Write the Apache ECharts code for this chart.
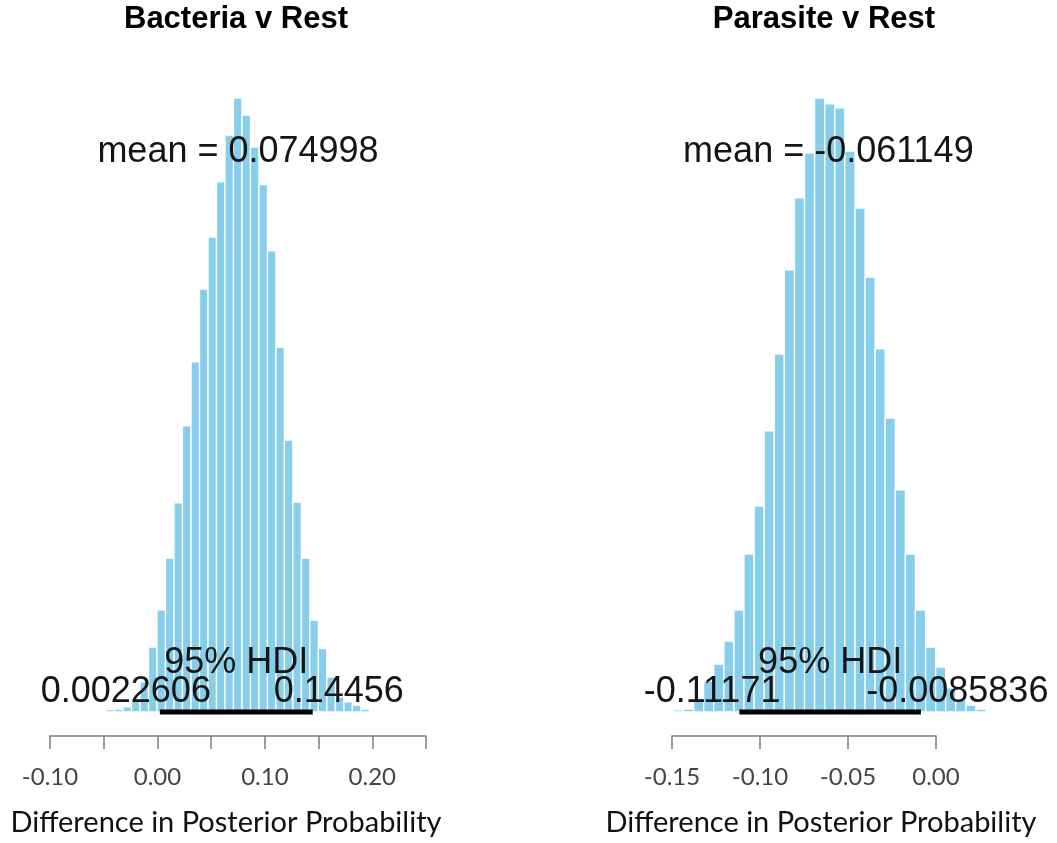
<!DOCTYPE html>
<html><head><meta charset="utf-8">
<script src="https://cdn.jsdelivr.net/npm/echarts@6/dist/echarts.min.js"></script>
<style>html,body{margin:0;padding:0;background:#fff}#c{width:1057px;height:843px}</style>
</head><body><div id="c"></div><script>
// ---- Panel 1: Bacteria v Rest ----
const bactTitle = 'Bacteria v Rest';
const bactEdges = [-0.0478,-0.0399,-0.0320,-0.0241,-0.0162,-0.0083,-0.0004,0.0075,0.0154,0.0233,0.0313,0.0392,0.0471,0.0550,0.0629,0.0708,0.0787,0.0866,0.0945,0.1024,0.1103,0.1182,0.1261,0.1340,0.1419,0.1498,0.1577,0.1657,0.1736,0.1815,0.1894,0.1973];
const bactDensity = [0.04,0.05,0.09,0.21,0.53,1.14,1.79,2.70,3.67,5.02,6.14,7.42,8.33,9.30,10.12,10.77,10.47,9.91,9.25,8.09,6.40,4.77,3.68,2.70,1.61,1.11,0.61,0.26,0.18,0.12,0.05];
const bactMean = 0.074998;
const bactHDI = [0.0022606, 0.14456];
const bactAxis = {min: -0.10, max: 0.25, step: 0.05};
const bactTickLabels = ['-0.10','0.00','0.10','0.20'];

// ---- Panel 2: Parasite v Rest ----
const parTitle = 'Parasite v Rest';
const parEdges = [-0.1549,-0.1492,-0.1435,-0.1377,-0.1320,-0.1263,-0.1205,-0.1148,-0.1091,-0.1033,-0.0976,-0.0919,-0.0862,-0.0804,-0.0747,-0.0690,-0.0632,-0.0575,-0.0518,-0.0460,-0.0403,-0.0346,-0.0289,-0.0231,-0.0174,-0.0117,-0.0059,-0.0002,0.0055,0.0112,0.0170,0.0227,0.0284];
const parDensity = [0.02,0.05,0.07,0.33,0.73,1.13,1.67,2.40,3.72,4.85,6.62,8.43,10.41,12.11,13.17,14.46,14.32,14.23,13.21,11.87,10.24,8.55,6.92,5.23,3.72,2.40,1.53,1.06,0.57,0.28,0.16,0.07];
const parMean = -0.061149;
const parHDI = [-0.11171, -0.0085836];
const parAxis = {min: -0.15, max: 0.00, step: 0.05};
const parTickLabels = ['-0.15','-0.10','-0.05','0.00'];

const xTitle = 'Difference in Posterior Probability';

const ANNOT_FONT = '36px "Liberation Sans", Arial, sans-serif';
const TICK_FONT_FAMILY = 'Lato';
const BAR_COLOR = '#87CEEB';

const mctx = document.createElement('canvas').getContext('2d');
function textWidth(t, font){ mctx.font = font; return mctx.measureText(t).width; }

function fmt(v){ let s = v.toFixed(2); if (s === '-0.00') s = '0.00'; return s; }

function makeXAxis(gi, ax, labels){
  return {
    gridIndex: gi, type: 'value', min: ax.min, max: ax.max, interval: ax.step,
    offset: 24,
    axisLine: {show: true, onZero: false, lineStyle: {color: '#7d7d7d', width: 1.5}},
    axisTick: {show: true, length: 13, lineStyle: {color: '#7d7d7d', width: 1.5}},
    splitLine: {show: false},
    axisLabel: {
      margin: 29, color: '#444', fontSize: 24, fontFamily: TICK_FONT_FAMILY,
      formatter: v => { const s = fmt(v); return labels.indexOf(s) >= 0 ? s : ''; }
    }
  };
}

function barSeries(i, edges, dens){
  return {
    type: 'custom', xAxisIndex: i, yAxisIndex: i, clip: false, silent: true, z: 2,
    data: dens.map((d, k) => [edges[k], edges[k + 1], d]),
    encode: {x: [0, 1], y: 2},
    renderItem: (params, api) => {
      const p0 = api.coord([api.value(0), 0]);
      const p1 = api.coord([api.value(1), api.value(2)]);
      return {type: 'rect',
        shape: {x: p0[0], y: p1[1], width: p1[0] - p0[0], height: p0[1] - p1[1]},
        style: {fill: BAR_COLOR, stroke: '#ffffff', lineWidth: 1.3}};
    }
  };
}

function annotSeries(i, mean, hdi, maxD){
  return {
    type: 'custom', xAxisIndex: i, yAxisIndex: i, clip: false, silent: true, z: 5,
    data: [[mean, hdi[0], hdi[1]]],
    encode: {x: [0, 1, 2]},
    renderItem: (params, api) => {
      const m = api.coord([api.value(0), 0.912 * maxD]);
      const a = api.coord([api.value(1), 0]);
      const b = api.coord([api.value(2), 0]);
      const s0 = String(api.value(1)), s1 = String(api.value(2));
      const w0 = textWidth(s0, ANNOT_FONT), w1 = textWidth(s1, ANNOT_FONT);
      const txt = (t, x, y, align) => ({type: 'text', style: {text: t, x: x, y: y, font: ANNOT_FONT, fill: '#151515', align: align, verticalAlign: 'middle'}});
      return {type: 'group', children: [
        {type: 'line', shape: {x1: a[0], y1: a[1], x2: b[0], y2: b[1]}, style: {stroke: '#000', lineWidth: 5}},
        txt('mean = ' + String(api.value(0)), m[0], m[1], 'center'),
        txt('95% HDI', (a[0] + b[0]) / 2, a[1] - 49, 'center'),
        txt(s0, a[0] - 0.7 * w0, a[1] - 20, 'left'),
        txt(s1, b[0] - 0.3 * w1, b[1] - 20, 'left')
      ]};
    }
  };
}

const bactMax = Math.max.apply(null, bactDensity);
const parMax = Math.max.apply(null, parDensity);

const chart = echarts.init(document.getElementById('c'), null, {renderer: 'canvas'});
chart.setOption({
  animation: false,
  backgroundColor: '#ffffff',
  grid: [
    {left: 50, width: 376, top: 98, bottom: 131},
    {left: 672, width: 264, top: 98, bottom: 131}
  ],
  xAxis: [makeXAxis(0, bactAxis, bactTickLabels), makeXAxis(1, parAxis, parTickLabels)],
  yAxis: [
    {gridIndex: 0, type: 'value', min: 0, max: bactMax, show: false},
    {gridIndex: 1, type: 'value', min: 0, max: parMax, show: false}
  ],
  series: [
    barSeries(0, bactEdges, bactDensity),
    barSeries(1, parEdges, parDensity),
    annotSeries(0, bactMean, bactHDI, bactMax),
    annotSeries(1, parMean, parHDI, parMax)
  ],
  graphic: [
    {type: 'text', x: 236, y: 19, style: {text: bactTitle, font: 'bold 31px "Liberation Sans", Arial, sans-serif', fill: '#000', align: 'center', verticalAlign: 'middle'}},
    {type: 'text', x: 824, y: 19, style: {text: parTitle, font: 'bold 31px "Liberation Sans", Arial, sans-serif', fill: '#000', align: 'center', verticalAlign: 'middle'}},
    {type: 'text', x: 226, y: 823, style: {text: xTitle, font: '29px Lato', fill: '#111', align: 'center', verticalAlign: 'middle'}},
    {type: 'text', x: 821, y: 823, style: {text: xTitle, font: '29px Lato', fill: '#111', align: 'center', verticalAlign: 'middle'}}
  ]
});
</script></body></html>
